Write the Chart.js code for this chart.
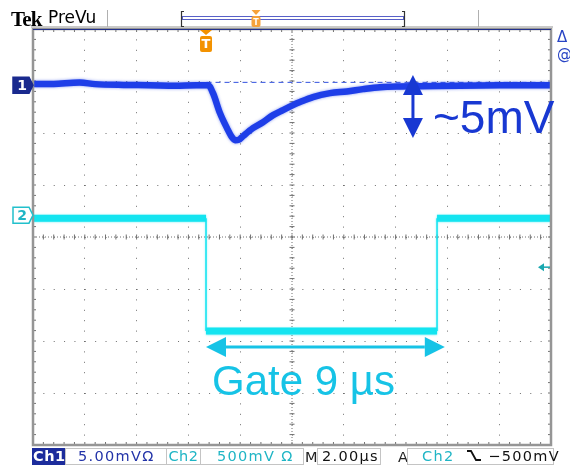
<!DOCTYPE html>
<html>
<head>
<meta charset="utf-8">
<script src="https://cdn.jsdelivr.net/npm/chart.js@4.4.1/dist/chart.umd.min.js"></script>
<style>
body { margin:0; background:#fff; }
#scope { position:relative; width:570px; height:466px; overflow:hidden; font-family:'DejaVu Sans', sans-serif; }
#scope canvas { position:absolute; left:0; top:0; }
.t { position:absolute; white-space:nowrap; line-height:1; }
.box { position:absolute; top:448px; height:15px; line-height:15px; border:1px solid #c4c4c4; font-size:14.5px; letter-spacing:1.3px; white-space:nowrap; }
</style>
</head>
<body>
<div id="scope">
<canvas id="chart" width="570" height="466"></canvas>
<div class="t" style="left:11px;top:7px;font:bold 21px 'Liberation Serif';letter-spacing:-0.8px">Tek</div>
<div class="t" style="left:48px;top:9px;font-size:17px">PreVu</div>
<div class="t" style="left:557px;top:30px;font-size:15px;color:#2844c4">Δ</div>
<div class="t" style="left:557px;top:47px;font-size:15px;color:#2844c4">@</div>

<div class="box" style="left:32px;width:31px;background:#1c2c9c;color:#fff;border-color:#1c2c9c;text-align:center;letter-spacing:0.5px;font-weight:bold">Ch1</div>
<div class="box" style="left:65px;width:88px;padding-left:12px;color:#2233a8">5.00mVΩ</div>
<div class="box" style="left:166px;width:33px;text-align:center;color:#1fb5c5;letter-spacing:0.5px">Ch2</div>
<div class="box" style="left:200px;width:86px;padding-left:16px;color:#1fb5c5">500mV Ω</div>
<div class="t" style="left:305px;top:450px;font-size:14.5px;color:#222">M</div>
<div class="box" style="left:317px;width:58px;padding-left:4px;color:#111">2.00µs</div>
<div class="t" style="left:398px;top:450px;font-size:14.5px;color:#222">A</div>
<div class="box" style="left:407px;width:131px;padding-left:14px;color:#1fb5c5">Ch2
  <svg width="16" height="13" style="margin-left:6px;vertical-align:-1px"><path d="M1 2 H5 L10 11 H15" fill="none" stroke="#111" stroke-width="1.8"/></svg>
  <span style="color:#111">−500mV</span></div>
</div>

<script>
// scope settings
const TIME_DIV = 2;      // µs per division
const CH1_VDIV = 5;      // mV per division
const CH2_VDIV = 500;    // mV per division
const CH1_POS = 2.92;    // ch1 ground, divisions above centre
const CH2_POS = 0.42;    // ch2 ground, divisions above centre
const TRIG_T = 6.68;     // µs from left edge
const TRIG_LEVEL = -500; // mV on ch2

// Ch1 - detector signal (µs, mV)
const ch1Time = [0, 0.8, 1.8, 2.4, 3.5, 4.5, 5.5, 6.3, 6.76, 6.95, 7.22, 7.49, 7.68, 7.8, 7.95, 8.11,
  8.49, 8.88, 9.27, 9.65, 10.04, 10.31, 10.81, 11.47, 12.12, 12.74, 13.4, 14.2, 14.94, 16.49, 18, 20];
const ch1mV = [0.1, 0.12, 0.25, 0.1, 0.02, 0, -0.05, 0, 0, -0.77, -2.69, -4.13, -5.0, -5.29, -5.25, -4.9,
  -4.13, -3.56, -2.88, -2.4, -1.92, -1.63, -1.15, -0.77, -0.6, -0.38, -0.19, -0.12, -0.1, -0.05, -0.02, 0];

// Ch1 dashed reference level
const refTime = [6.7, 20];
const refmV = [0.27, 0.27];

// Ch2 - gate pulse (µs, mV)
const ch2Time = [0, 6.68, 6.68, 15.6, 15.6, 20];
const ch2mV = [-30, -30, -1115, -1115, -30, -30];

// annotations
const ampArrowT = 14.67, ampArrowTop = 0.98, ampArrowBottom = -5.08, ampTextmV = -4.6;
const gateArrowT = [6.68, 15.9], gateArrowmV = -1267, gateTextmV = -1729;

const pts = (xs, ys) => xs.map((x, i) => ({x: x, y: ys[i]}));

function dblArrow(ctx, x1, y1, x2, y2, color) {
  const len = Math.hypot(x2 - x1, y2 - y1), ux = (x2 - x1) / len, uy = (y2 - y1) / len;
  const head = 20, half = 10;
  ctx.strokeStyle = color; ctx.fillStyle = color; ctx.lineWidth = 3;
  ctx.beginPath();
  ctx.moveTo(x1 + ux * head, y1 + uy * head); ctx.lineTo(x2 - ux * head, y2 - uy * head);
  ctx.stroke();
  [[x1, y1, 1], [x2, y2, -1]].forEach(([x, y, s]) => {
    const bx = x + ux * head * s, by = y + uy * head * s;
    ctx.beginPath();
    ctx.moveTo(x, y);
    ctx.lineTo(bx - uy * half, by + ux * half);
    ctx.lineTo(bx + uy * half, by - ux * half);
    ctx.closePath(); ctx.fill();
  });
}

function tMarker(ctx, x, top, w, h, color) {
  ctx.fillStyle = color;
  ctx.beginPath();
  ctx.moveTo(x - w / 2, top); ctx.lineTo(x + w / 2, top); ctx.lineTo(x, top + 5); ctx.closePath(); ctx.fill();
  ctx.beginPath();
  ctx.roundRect(x - w / 2, top + 6, w, h, 2); ctx.fill();
  ctx.fillStyle = '#fff'; ctx.font = 'bold ' + (h - 3) + 'px "DejaVu Sans"';
  ctx.textAlign = 'center'; ctx.textBaseline = 'middle';
  ctx.fillText('T', x, top + 6 + h / 2 + 1);
}

function chMarker(ctx, tip, y, fill, stroke, text, textColor) {
  ctx.beginPath();
  ctx.moveTo(tip - 20, y - 8); ctx.lineTo(tip - 4, y - 8); ctx.lineTo(tip, y);
  ctx.lineTo(tip - 4, y + 8); ctx.lineTo(tip - 20, y + 8); ctx.closePath();
  ctx.fillStyle = fill; ctx.fill();
  ctx.strokeStyle = stroke; ctx.lineWidth = 1.5; ctx.stroke();
  ctx.fillStyle = textColor; ctx.font = 'bold 14px "DejaVu Sans"';
  ctx.textAlign = 'center'; ctx.textBaseline = 'middle';
  ctx.fillText(text, tip - 11, y + 1);
}

const scopeDecor = {
  id: 'scopeDecor',
  beforeDatasetsDraw(chart) {
    const {ctx, chartArea: a, scales} = chart;
    const dx = (a.right - a.left) / 50, dy = (a.bottom - a.top) / 40;
    const cx = scales.x.getPixelForValue(10), cy = scales.g.getPixelForValue(0);
    ctx.save();
    ctx.strokeStyle = '#707070'; ctx.lineWidth = 1;
    ctx.setLineDash([1, 2]);
    ctx.beginPath();
    ctx.moveTo(cx, a.top); ctx.lineTo(cx, a.bottom);
    ctx.moveTo(a.left, cy); ctx.lineTo(a.right, cy);
    ctx.stroke();
    ctx.setLineDash([]);
    ctx.beginPath();
    for (let i = 1; i < 50; i++) {
      const x = a.left + i * dx;
      ctx.moveTo(x, cy - 2.5); ctx.lineTo(x, cy + 2.5);
      ctx.moveTo(x, a.top); ctx.lineTo(x, a.top + 3);
      ctx.moveTo(x, a.bottom); ctx.lineTo(x, a.bottom - 3);
    }
    for (let j = 1; j < 40; j++) {
      const y = a.top + j * dy;
      ctx.moveTo(cx - 2.5, y); ctx.lineTo(cx + 2.5, y);
      ctx.moveTo(a.left, y); ctx.lineTo(a.left + 3, y);
      ctx.moveTo(a.right, y); ctx.lineTo(a.right - 3, y);
    }
    ctx.stroke();
    ctx.restore();
  },
  beforeDatasetDraw(chart, args) {
    // soft fringe standing in for the trace noise
    const ctx = chart.ctx;
    ctx.save();
    if (args.index === 0) { ctx.shadowColor = 'rgba(30,62,232,0.55)'; ctx.shadowBlur = 3; }
    if (args.index === 2) { ctx.shadowColor = 'rgba(20,228,240,0.55)'; ctx.shadowBlur = 2; }
  },
  afterDatasetDraw(chart) {
    chart.ctx.restore();
  },
  afterDatasetsDraw(chart) {
    const {ctx, chartArea: a, scales} = chart;
    const xs = scales.x, y1 = scales.y1, y2 = scales.y2;
    ctx.save();
    // frame
    ctx.strokeStyle = '#959595'; ctx.lineWidth = 2.5;
    ctx.strokeRect(a.left, a.top, a.right - a.left, a.bottom - a.top);
    ctx.strokeStyle = '#c9c9c9'; ctx.lineWidth = 2;
    ctx.beginPath(); ctx.moveTo(a.left - 2, a.top - 2); ctx.lineTo(a.right + 2, a.top - 2); ctx.stroke();
    ctx.strokeStyle = '#22308c'; ctx.lineWidth = 1;
    ctx.beginPath(); ctx.moveTo(a.left, a.top + 0.5); ctx.lineTo(a.right, a.top + 0.5); ctx.stroke();

    // header: separators and record bar
    ctx.strokeStyle = '#b0b0b0'; ctx.lineWidth = 1;
    ctx.beginPath(); ctx.moveTo(107.5, 10); ctx.lineTo(107.5, 27);
    ctx.moveTo(478.5, 10); ctx.lineTo(478.5, 27); ctx.stroke();
    ctx.strokeStyle = '#5860c8';
    ctx.strokeRect(182.5, 16.5, 221, 3);
    ctx.strokeStyle = '#333'; ctx.lineWidth = 1.2;
    ctx.beginPath();
    ctx.moveTo(184, 11.5); ctx.lineTo(181.5, 11.5); ctx.lineTo(181.5, 26.5); ctx.lineTo(184, 26.5);
    ctx.moveTo(402, 11.5); ctx.lineTo(404.5, 11.5); ctx.lineTo(404.5, 26.5); ctx.lineTo(402, 26.5);
    ctx.stroke();
    tMarker(ctx, 256, 10, 9, 11, '#f6a23a');

    // trigger position and level
    tMarker(ctx, xs.getPixelForValue(TRIG_T), a.top + 1, 12, 16, '#f39200');
    const ty = y2.getPixelForValue(TRIG_LEVEL);
    ctx.fillStyle = '#1aa8b0'; ctx.strokeStyle = '#1aa8b0'; ctx.lineWidth = 1.5;
    ctx.beginPath(); ctx.moveTo(a.right - 13, ty); ctx.lineTo(a.right - 7, ty - 4); ctx.lineTo(a.right - 7, ty + 4); ctx.closePath(); ctx.fill();
    ctx.beginPath(); ctx.moveTo(a.right - 8, ty); ctx.lineTo(a.right - 1, ty); ctx.stroke();

    // channel ground markers
    chMarker(ctx, a.left, y1.getPixelForValue(0), '#1a2a8e', '#1a2a8e', '1', '#fff');
    chMarker(ctx, a.left, y2.getPixelForValue(0), '#fff', '#22c0cc', '2', '#1fb5c5');

    // annotations
    const ax = xs.getPixelForValue(ampArrowT);
    dblArrow(ctx, ax, y1.getPixelForValue(ampArrowTop), ax, y1.getPixelForValue(ampArrowBottom), '#1838d2');
    ctx.fillStyle = '#1838d2'; ctx.font = '46px "Liberation Sans"';
    ctx.textAlign = 'left'; ctx.textBaseline = 'alphabetic';
    ctx.fillText('~5mV', ax + 20, y1.getPixelForValue(ampTextmV));

    const gy = y2.getPixelForValue(gateArrowmV);
    dblArrow(ctx, xs.getPixelForValue(gateArrowT[0]), gy, xs.getPixelForValue(gateArrowT[1]), gy, '#16c3e6');
    ctx.fillStyle = '#16c3e6'; ctx.font = '42px "Liberation Sans"';
    ctx.fillText('Gate 9 µs', xs.getPixelForValue(gateArrowT[0]) + 6, y2.getPixelForValue(gateTextmV));
    ctx.restore();
  }
};

const dotGrid = { color: '#6e6e6e', lineWidth: 1, drawTicks: false };

new Chart(document.getElementById('chart'), {
  type: 'line',
  data: {
    datasets: [
      { label: 'Ch1', data: pts(ch1Time, ch1mV), yAxisID: 'y1', borderColor: '#1e3ee8', borderWidth: 6.5,
        pointRadius: 0, cubicInterpolationMode: 'monotone' },
      { label: 'Ch1 ref', data: pts(refTime, refmV), yAxisID: 'y1', borderColor: '#3050e0', borderWidth: 1,
        borderDash: [5, 4], pointRadius: 0 },
      { label: 'Ch2', data: pts(ch2Time, ch2mV), yAxisID: 'y2', borderColor: '#14e4f0', borderWidth: 7,
        pointRadius: 0, tension: 0, borderCapStyle: 'butt',
        segment: { borderWidth: c => c.p0.parsed.x === c.p1.parsed.x ? 1.5 : 7 } }
    ]
  },
  options: {
    responsive: false,
    animation: false,
    devicePixelRatio: 1,
    layout: { padding: { left: 33, top: 29, right: 19, bottom: 21 } },
    plugins: { legend: { display: false }, tooltip: { enabled: false } },
    scales: {
      x: { type: 'linear', min: 0, max: 10 * TIME_DIV, ticks: { display: false, stepSize: TIME_DIV },
           grid: dotGrid, border: { display: false, dash: [1, 9.4] } },
      g: { type: 'linear', position: 'left', min: -4, max: 4, ticks: { display: false, stepSize: 1 },
           grid: dotGrid, border: { display: false, dash: [1, 9.36] } },
      y1: { type: 'linear', display: false, min: (-4 - CH1_POS) * CH1_VDIV, max: (4 - CH1_POS) * CH1_VDIV },
      y2: { type: 'linear', display: false, min: (-4 - CH2_POS) * CH2_VDIV, max: (4 - CH2_POS) * CH2_VDIV }
    }
  },
  plugins: [scopeDecor]
});
</script>
</body>
</html>
